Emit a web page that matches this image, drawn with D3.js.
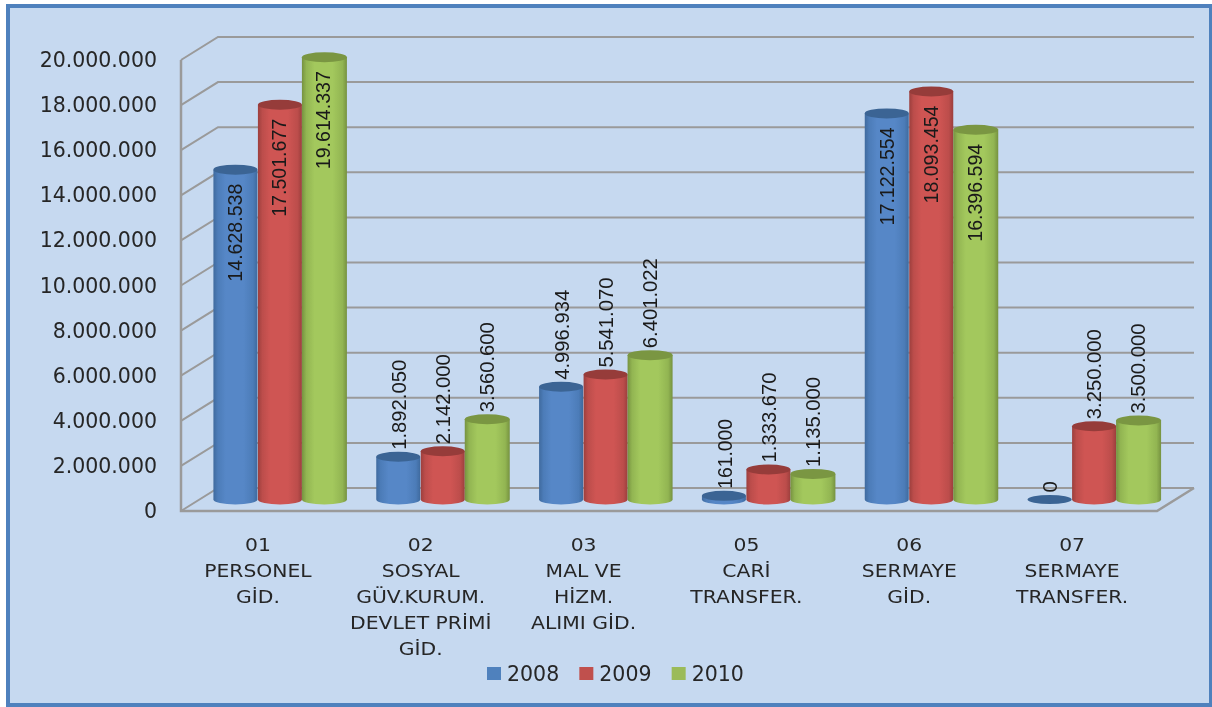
<!DOCTYPE html>
<html><head><meta charset="utf-8">
<script src="https://cdn.jsdelivr.net/npm/d3@7/dist/d3.min.js"></script>
<style>html,body{margin:0;padding:0;background:#fff}svg{display:block;filter:blur(0.35px)}</style></head>
<body><svg id="c" width="1212" height="707"></svg>
<script>
const categories = [["01","PERSONEL","GİD."],["02","SOSYAL","GÜV.KURUM.","DEVLET PRİMİ","GİD."],["03","MAL VE","HİZM.","ALIMI GİD."],["05","CARİ","TRANSFER."],["06","SERMAYE","GİD."],["07","SERMAYE","TRANSFER."]];
const years = ["2008","2009","2010"];
const values2008 = [14628538,1892050,4996934,161000,17122554,0];
const values2009 = [17501677,2142000,5541070,1333670,18093454,3250000];
const values2010 = [19614337,3560600,6401022,1135000,16396594,3500000];
const labelsInside = [true,false,false,false,true,false];
const yTicks = [0,2e6,4e6,6e6,8e6,10e6,12e6,14e6,16e6,18e6,20e6];
const seriesColors = [
 {edge:"#3f6a9e",soft:"#4c7cb8",mid:"#5687c7",top:"#3b6494",leg:"#4f81bd"},
 {edge:"#9c3f3d",soft:"#bc4d4b",mid:"#cf5553",top:"#963c3a",leg:"#c0504d"},
 {edge:"#769240",soft:"#92b552",mid:"#a3c85d",top:"#7a9642",leg:"#9bbb59"}];

const svg = d3.select("#c");
const W=1212,H=707;
svg.append("rect").attr("x",8).attr("y",6).attr("width",W-9).attr("height",H-8)
  .attr("fill","#c6d9f0").attr("stroke","#4f81bd").attr("stroke-width",4);

const depthX=37, depthY=-23;
const plot={l:181,r:1157,b:511,t:60};
const yFront=d3.scaleLinear().domain([0,20e6]).range([plot.b,plot.t]);
const yBar=d3.scaleLinear().domain([0,20e6]).range([499.5,48.5]);
const x0=d3.scaleBand().domain(d3.range(categories.length)).range([198.5,1175.5]);
const x1=d3.scaleBand().domain([0,1,2]).range([0,132]);
const pad=(x0.bandwidth()-132)/2;
const gridCol="#9a9a9a";

const g=svg.append("g").attr("fill","none").attr("stroke",gridCol).attr("stroke-width",2);
yTicks.forEach(t=>{
  const y=yFront(t);
  g.append("path").attr("d",`M${plot.l},${y}L${plot.l+depthX},${y+depthY}L${plot.r+depthX},${y+depthY}`);
});
g.append("path").attr("d",`M${plot.l},${yFront(20e6)}V${plot.b}H${plot.r}L${plot.r+depthX},${plot.b+depthY}`).attr("stroke-width",2.5);

const fmt=v=>d3.format(",")(v).replace(/,/g,".");
const ax=svg.append("g").attr("transform",`translate(${plot.l},0)`)
  .call(d3.axisLeft(yFront).tickValues(yTicks).tickSize(0).tickPadding(24).tickFormat(fmt));
ax.select(".domain").remove();
ax.selectAll("text").attr("font-family","'DejaVu Sans'").attr("font-size",20.5).attr("fill","#262626");

const defs=svg.append("defs");
seriesColors.forEach((c,i)=>{
  const gr=defs.append("linearGradient").attr("id","g"+i);
  [[0,c.edge],[.1,c.soft],[.28,c.mid],[.68,c.mid],[.9,c.soft],[1,c.edge]].forEach(s=>gr.append("stop").attr("offset",s[0]).attr("stop-color",s[1]));
});

const rows=[values2008,values2009,values2010];
const ry=5;
rows.forEach((vals,s)=>{
  const layer=svg.append("g");
  vals.forEach((v,i)=>{
    const a=x0(i)+pad+x1(s)+(s===0?-0.5:0), w=x1.bandwidth()+(s===2?1:0), rx=w/2;
    const base=yBar(0), top=yBar(v);
    if(v>0) layer.append("path")
      .attr("d",`M${a},${top}V${base}A${rx},${ry} 0 0 0 ${a+w},${base}V${top}Z`)
      .attr("fill",`url(#g${s})`);
    layer.append("ellipse").attr("cx",a+rx).attr("cy",top).attr("rx",rx).attr("ry",v>0?ry:4.5)
      .attr("fill",seriesColors[s].top);
  });
});

rows.forEach((vals,s)=>{
  vals.forEach((v,i)=>{
    const cx=x0(i)+pad+x1(s)+x1.bandwidth()/2;
    const top=yBar(v), inside=labelsInside[i];
    const txt=svg.append("text")
      .attr("transform",`translate(${cx-(inside?1:0)},${inside?top+14:top-7}) rotate(-90)`)
      .attr("dy","0.36em").attr("text-anchor",inside?"end":"start")
      .attr("font-family","'Liberation Sans'").attr("font-size",20.5).attr("fill","#1a1a1a")
      .text(fmt(v));
    if(v>0) txt.attr("textLength",v>=1e7?98:(v>=1e6?90:70)).attr("lengthAdjust","spacingAndGlyphs");
  });
});

categories.forEach((lines,i)=>{
  const cx=x0(i)+x0.bandwidth()/2-22;
  const t=svg.append("g").attr("transform",`translate(${cx},0) scale(1.13,1)`);
  lines.forEach((l,j)=>t.append("text").attr("text-anchor","middle").attr("y",545+j*26).attr("dy","0.36em")
    .attr("font-family","'DejaVu Sans'").attr("font-size",18).attr("fill","#262626").text(l));
});

const legX=d3.scaleBand().domain(years).range([487,764]);
years.forEach((yr,i)=>{
  svg.append("rect").attr("x",legX(yr)).attr("y",667).attr("width",14).attr("height",13).attr("fill",seriesColors[i].leg);
  svg.append("text").attr("x",legX(yr)+20).attr("y",674).attr("dy","0.36em")
    .attr("font-family","'DejaVu Sans'").attr("font-size",20.5).attr("fill","#262626").text(yr);
});
</script></body></html>
